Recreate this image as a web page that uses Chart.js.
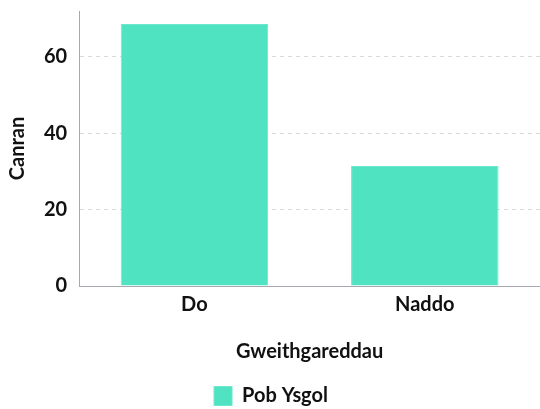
<!DOCTYPE html>
<html>
<head>
<meta charset="utf-8">
<script src="https://cdn.jsdelivr.net/npm/chart.js@4"></script>
<style>
  body { margin: 0; background: #fff; }
  #wrap { width: 540px; height: 409px; }
</style>
</head>
<body>
<div id="wrap"><canvas id="chart"></canvas></div>
<script>
// Data
const categories = ["Do", "Naddo"];
const seriesName = "Pob Ysgol";
const values = [68.6, 31.4];
const yTicks = [0, 20, 40, 60];

const font = { family: "Lato", weight: "bold", size: 20 };

const ctx = document.getElementById("chart").getContext("2d");
new Chart(ctx, {
  type: "bar",
  data: {
    labels: categories,
    datasets: [
      {
        label: seriesName,
        data: values,
        backgroundColor: "#50e3c2",
        borderColor: "#6ee8cc",
        borderWidth: 1,
        barPercentage: 0.8,
        categoryPercentage: 0.8,
      },
    ],
  },
  options: {
    responsive: true,
    maintainAspectRatio: false,
    animation: false,
    layout: { padding: { top: 11, right: 0, left: 2, bottom: -7 } },
    plugins: {
      legend: {
        position: "bottom",
        labels: {
          color: "#111",
          font: font,
          boxWidth: 18,
          boxHeight: 19,
          padding: 2,
        },
      },
      tooltip: { enabled: false },
    },
    scales: {
      y: {
        min: 0,
        max: 72,
        afterBuildTicks: function (axis) {
          axis.ticks = yTicks.map(function (v) { return { value: v }; });
        },
        // la scala riserva spazio per la metà dell'etichetta più alta: qui non serve
        afterFit: function (axis) {
          axis.paddingTop = 0;
        },
        title: {
          display: true,
          text: "Canran",
          color: "#111",
          font: font,
          padding: { bottom: 2 },
        },
        ticks: { color: "#111", font: font, padding: 12 },
        grid: {
          drawTicks: false,
          color: function (c) { return c.tick.value === 0 ? "rgba(0,0,0,0)" : "#d9d9d9"; },
          lineWidth: 1,
        },
        border: { display: true, color: "#a8a8b0", dash: [4, 4] },
      },
      x: {
        title: {
          display: true,
          text: "Gweithgareddau",
          color: "#111",
          font: font,
          padding: { top: 16, bottom: 20 },
        },
        ticks: { color: "#111", font: font, padding: 7 },
        grid: { display: false, drawTicks: false },
        border: { display: true, color: "#a8a8b0" },
      },
    },
  },
});
</script>
</body>
</html>
